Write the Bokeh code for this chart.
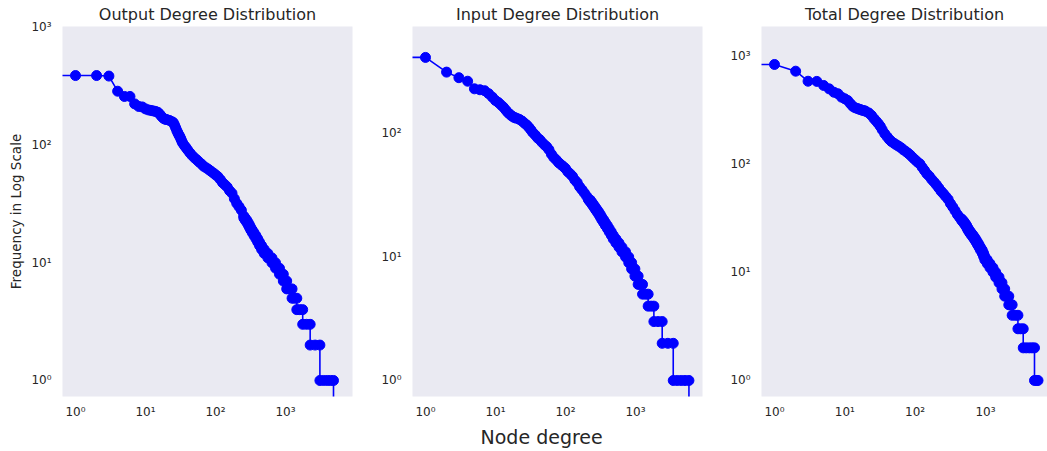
from bokeh.plotting import figure
from bokeh.layouts import row
from bokeh.models import Range1d, FixedTicker, CustomJSTickFormatter, Title, ColumnDataSource
from bokeh.embed import file_html
from bokeh.resources import INLINE

# ---------------- data ----------------
titles = ["Output Degree Distribution", "Input Degree Distribution", "Total Degree Distribution"]
y_label = "Frequency in Log Scale"
x_label = "Node degree"
x_ticks = [1, 10, 100, 1000]
y_ticks = [1, 10, 100, 1000]

# Output degree: sorted degree sequence sampled by rank
out_head_rank = [0, 1, 2, 3, 4, 5, 6, 7, 8, 9, 10,
                 11, 12, 13, 14, 15, 16, 17, 18, 19, 20, 22, 24, 25, 26, 27, 28, 29, 30, 31, 32,
                 33, 34, 36, 38, 40, 43, 46, 50, 54, 58, 63, 68, 74, 80, 86, 93, 100, 108, 117,
                 126, 136, 147, 159, 172, 186, 201, 217, 234, 253]
out_head_degree = [392, 390, 390, 386, 287, 259, 259, 224, 213, 211, 203,
                   199, 197, 195, 193, 190, 183, 175, 169, 166, 165, 162, 158, 155, 148, 140, 133, 127, 122, 118, 113,
                   108, 104, 99, 95, 91, 86, 82, 78, 75, 72, 69, 66, 64, 62, 60, 58, 56, 54, 51,
                   48, 46, 44, 41, 39, 35, 32, 30, 28, 25]
out_run_degree = [24, 23, 22, 21, 20, 19, 18, 17, 16, 15, 14, 13,
                  12, 11, 10, 9, 8, 7, 6, 5, 4, 3, 2, 1, 0]
out_run_ranks = [[254, 265], [266, 280], [281, 292], [293, 305], [306, 318], [319, 335],
                 [336, 355], [356, 378], [379, 400], [401, 425], [426, 455], [456, 495],
                 [496, 530, 560], [561, 600, 640], [641, 680, 720], [721, 770, 820],
                 [821, 875, 930], [931, 985, 1040], [1041, 1140, 1240], [1241, 1340, 1450],
                 [1451, 1600, 1760], [1761, 2000, 2250], [2251, 2650, 3100],
                 [3101, 3500, 3950, 4400, 4850], [4851]]

# Input degree
in_head_rank = [0, 1, 2, 3, 4, 5, 6, 7, 8, 9, 10,
                11, 12, 13, 14, 15, 16, 17, 18, 19, 20, 22, 24, 26, 28, 30, 32, 34, 37, 40, 43,
                46, 50, 54, 58, 63, 68, 74, 80, 86, 93, 100, 108, 117, 126, 136, 147, 159, 172,
                186, 201, 214]
in_head_degree = [415, 413, 314, 283, 265, 230, 226, 222, 210, 197, 185,
                  178, 170, 163, 155, 148, 143, 139, 136, 134, 133, 130, 126, 121, 117, 112, 107, 102, 97, 92, 89,
                  85, 81, 78, 74, 68, 64, 61, 58, 56, 54, 52, 49, 47, 45, 42, 40, 37, 35,
                  33, 31, 29]
in_run_degree = [29, 28, 27, 26, 25, 24, 23, 22, 21, 20, 19, 18, 17, 16, 15, 14,
                 13, 12, 11, 10, 9, 8, 7, 6, 5, 4, 3, 2, 1, 0]
in_run_ranks = [[215, 224], [225, 235], [236, 246], [247, 258], [259, 270], [271, 285],
                [286, 300], [301, 315], [316, 330], [331, 350], [351, 370], [371, 395],
                [396, 420], [421, 450], [451, 480], [481, 525],
                [526, 550, 580], [581, 610, 640], [641, 680, 720], [721, 760, 800],
                [801, 840, 880], [881, 930, 980], [981, 1035, 1090], [1091, 1170, 1260],
                [1261, 1390, 1515], [1516, 1670, 1830], [1831, 2100, 2405], [2406, 2900, 3460],
                [3461, 3950, 4500, 5100, 5800], [5801]]

# Total degree
total_head_rank = [0, 1, 2, 3, 4, 5, 6, 7, 8, 9, 10,
                   11, 12, 13, 14, 15, 16, 17, 18, 19, 20, 22, 24, 26, 28, 30, 32, 34, 37, 40, 43,
                   46, 50, 54, 58, 63, 68, 74, 80, 86, 93, 100, 108, 117, 126, 136, 147, 159, 172,
                   186, 201, 217, 234, 253, 273, 295, 318, 343, 370, 400, 430, 459]
total_head_degree = [830, 828, 718, 580, 578, 530, 493, 459, 444, 413, 399,
                     385, 360, 340, 330, 325, 320, 316, 312, 310, 305, 295, 280, 262, 248, 235, 222, 207, 190, 178, 168,
                     161, 155, 150, 146, 141, 135, 130, 125, 120, 114, 109, 104, 100, 93, 87, 81, 77, 72,
                     68, 64, 60, 56, 53, 50, 47, 43, 40, 37, 34, 32, 31]
total_run_degree = [30, 29, 28, 27, 26, 25, 24, 23, 22, 21, 20, 19, 18, 17, 16, 15, 14,
                    13, 12, 11, 10, 9, 8, 7, 6, 5, 4, 3, 2, 1]
total_run_ranks = [[460, 480], [481, 500], [501, 520], [521, 540], [541, 555], [556, 575],
                   [576, 600], [601, 630], [631, 665], [666, 700], [701, 735], [736, 770],
                   [771, 810], [811, 850], [851, 900], [901, 940], [941, 980],
                   [981, 1020, 1060], [1061, 1110, 1160], [1161, 1220, 1280], [1281, 1340, 1400],
                   [1401, 1480, 1560], [1561, 1640, 1720], [1721, 1800, 1880], [1881, 2010, 2150],
                   [2151, 2270, 2400], [2401, 2650, 2900], [2901, 3150, 3450],
                   [3451, 3800, 4200, 4600, 4990], [4991, 5300, 5600]]

# ---------------- build ----------------
FONT = "DejaVu Sans"
TEXT = "#262626"
BG = "#EAEAF2"
BLUE = "#0000FF"
LOG_CLIP = 1e-300  # non-positive values clipped, like a log axis does
HEIGHT = 451


def series(head_rank, head_deg, run_deg, run_ranks):
    xs = list(head_rank)
    ys = list(head_deg)
    for d, ranks in zip(run_deg, run_ranks):
        for r in ranks:
            xs.append(r)
            ys.append(d)
    xs = [v if v > 0 else LOG_CLIP for v in xs]
    ys = [v if v > 0 else LOG_CLIP for v in ys]
    return ColumnDataSource(dict(x=xs, y=ys))


fmt_code = """
const sup = {"0": "\\u2070", "1": "\\u00b9", "2": "\\u00b2", "3": "\\u00b3",
             "4": "\\u2074", "5": "\\u2075", "-": "\\u207b"};
const e = Math.round(Math.log10(tick));
return "10" + String(e).split("").map(c => sup[c]).join("");
"""


def make_fig(title, width, x_rng, y_rng, left, right, src):
    p = figure(width=width, height=HEIGHT, x_axis_type="log", y_axis_type="log",
               x_range=Range1d(*x_rng), y_range=Range1d(*y_rng),
               output_backend="svg", toolbar_location=None,
               min_border_left=left, min_border_right=right,
               min_border_top=26, min_border_bottom=55)
    p.title.text = title
    p.title.text_font = FONT
    p.title.text_font_size = "16px"
    p.title.text_font_style = "normal"
    p.title.text_color = TEXT
    p.title.align = "center"
    p.title.standoff = 5
    p.background_fill_color = BG
    p.border_fill_color = "white"
    p.outline_line_color = None
    p.xgrid.visible = False
    p.ygrid.visible = False
    for ax, ticks in ((p.xaxis[0], x_ticks), (p.yaxis[0], y_ticks)):
        ax.ticker = FixedTicker(ticks=ticks, minor_ticks=[])
        ax.formatter = CustomJSTickFormatter(code=fmt_code)
        ax.axis_line_color = None
        ax.major_tick_line_color = None
        ax.minor_tick_line_color = None
        ax.major_tick_out = 0
        ax.major_tick_in = 0
        ax.minor_tick_out = 0
        ax.major_label_text_font = FONT
        ax.major_label_text_font_size = "12px"
        ax.major_label_text_color = TEXT
    p.xaxis[0].major_label_standoff = 8
    p.yaxis[0].major_label_standoff = 11
    p.line("x", "y", source=src, line_color=BLUE, line_width=1.6)
    p.scatter("x", "y", source=src, size=10, fill_color=BLUE, line_color=BLUE, line_width=1)
    return p


src_out = series(out_head_rank, out_head_degree, out_run_degree, out_run_ranks)
src_in = series(in_head_rank, in_head_degree, in_run_degree, in_run_ranks)
src_total = series(total_head_rank, total_head_degree, total_run_degree, total_run_ranks)

p1 = make_fig(titles[0], 372, (0.652, 9060), (0.731, 1018), 62, 20, src_out)
p2 = make_fig(titles[1], 350, (0.652, 9060), (0.742, 735), 40, 20, src_in)
p3 = make_fig(titles[2], 325, (0.653, 7640), (0.711, 1857), 39, 0, src_total)

p1.yaxis[0].axis_label = y_label
p1.yaxis[0].axis_label_text_font = FONT
p1.yaxis[0].axis_label_text_font_size = "13.5px"
p1.yaxis[0].axis_label_text_font_style = "normal"
p1.yaxis[0].axis_label_text_color = TEXT
p1.yaxis[0].axis_label_standoff = 4

xt = Title(text=x_label, align="left", offset=68, text_font=FONT, text_font_size="19px",
           text_font_style="normal", text_color=TEXT, standoff=4)
p2.add_layout(xt, "below")

layout = row(p1, p2, p3)
with open("out.html", "w", encoding="utf-8") as f:
    f.write(file_html(layout, INLINE))
